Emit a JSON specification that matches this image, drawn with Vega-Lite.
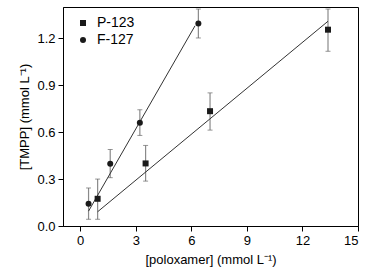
{
  "$schema": "https://vega.github.io/schema/vega-lite/v6.json",
  "width": 295,
  "height": 219,
  "autosize": "none",
  "padding": {"left": 63, "top": 7, "right": 22, "bottom": 47},
  "background": "white",
  "config": {
    "view": {"stroke": "black", "strokeWidth": 1},
    "font": "Liberation Sans",
    "axis": {
      "domainColor": "black",
      "tickColor": "black",
      "labelColor": "black",
      "titleColor": "black",
      "labelFont": "Liberation Sans",
      "titleFont": "Liberation Sans",
      "labelFontSize": 13,
      "titleFontSize": 13,
      "titleFontWeight": "normal",
      "grid": false,
      "labelPadding": 3
    }
  },
  "datasets": {
    "points": [
      {"series": "P-123", "x": 0.94, "y": 0.174, "lo": 0.043, "hi": 0.30},
      {"series": "P-123", "x": 3.53, "y": 0.40, "lo": 0.287, "hi": 0.515},
      {"series": "P-123", "x": 7.01, "y": 0.734, "lo": 0.613, "hi": 0.851},
      {"series": "P-123", "x": 13.38, "y": 1.255, "lo": 1.117, "hi": 1.387},
      {"series": "F-127", "x": 0.45, "y": 0.143, "lo": 0.043, "hi": 0.243},
      {"series": "F-127", "x": 1.62, "y": 0.398, "lo": 0.309, "hi": 0.489},
      {"series": "F-127", "x": 3.22, "y": 0.66, "lo": 0.579, "hi": 0.743},
      {"series": "F-127", "x": 6.38, "y": 1.294, "lo": 1.202, "hi": 1.387}
    ],
    "fits": [
      {"series": "P-123", "x": 0.94, "y": 0.091},
      {"series": "P-123", "x": 13.38, "y": 1.309},
      {"series": "F-127", "x": 0.45, "y": 0.095},
      {"series": "F-127", "x": 6.2, "y": 1.28}
    ]
  },
  "layer": [
    {
      "data": {"name": "points"},
      "mark": {"type": "rule", "color": "#8a8a8a", "strokeWidth": 1.2},
      "encoding": {
        "x": {
          "field": "x", "type": "quantitative",
          "scale": {"domain": [-0.93, 15], "nice": false, "zero": false},
          "title": "[poloxamer] (mmol L⁻¹)",
          "axis": {
            "values": [0, 1.5, 3, 4.5, 6, 7.5, 9, 10.5, 12, 13.5, 15],
            "labelExpr": "datum.value % 3 === 0 ? datum.label : ''",
            "tickSize": {"condition": {"test": "datum.value % 3 === 0", "value": 5}, "value": 3},
            "titlePadding": 6
          }
        },
        "y": {
          "field": "lo", "type": "quantitative",
          "scale": {"domain": [0, 1.4], "nice": false},
          "title": "[TMPP] (mmol L⁻¹)",
          "axis": {
            "values": [0, 0.15, 0.3, 0.45, 0.6, 0.75, 0.9, 1.05, 1.2, 1.35],
            "format": ".1f",
            "labelExpr": "abs(datum.value*10/3 - round(datum.value*10/3)) < 0.01 ? datum.label : ''",
            "tickSize": {"condition": {"test": "abs(datum.value*10/3 - round(datum.value*10/3)) < 0.01", "value": 5}, "value": 3},
            "titlePadding": 5
          }
        },
        "y2": {"field": "hi"}
      }
    },
    {
      "data": {"name": "points"},
      "mark": {"type": "tick", "orient": "horizontal", "color": "#6a6a6a", "size": 5, "thickness": 1},
      "encoding": {
        "x": {"field": "x", "type": "quantitative"},
        "y": {"field": "lo", "type": "quantitative", "title": "[TMPP] (mmol L⁻¹)"}
      }
    },
    {
      "data": {"name": "points"},
      "mark": {"type": "tick", "orient": "horizontal", "color": "#6a6a6a", "size": 5, "thickness": 1},
      "encoding": {
        "x": {"field": "x", "type": "quantitative"},
        "y": {"field": "hi", "type": "quantitative", "title": "[TMPP] (mmol L⁻¹)"}
      }
    },
    {
      "data": {"name": "fits"},
      "mark": {"type": "line", "color": "#333333", "strokeWidth": 1},
      "encoding": {
        "x": {"field": "x", "type": "quantitative"},
        "y": {"field": "y", "type": "quantitative", "title": "[TMPP] (mmol L⁻¹)"},
        "detail": {"field": "series"}
      }
    },
    {
      "data": {"name": "points"},
      "mark": {"type": "point", "filled": true, "color": "#1a1a1a", "opacity": 1, "size": 36},
      "encoding": {
        "x": {"field": "x", "type": "quantitative"},
        "y": {"field": "y", "type": "quantitative", "title": "[TMPP] (mmol L⁻¹)"},
        "shape": {
          "field": "series", "type": "nominal",
          "scale": {"domain": ["P-123", "F-127"], "range": ["square", "circle"]},
          "legend": {
            "orient": "none",
            "legendX": 13,
            "legendY": 9,
            "title": null,
            "symbolFillColor": "#1a1a1a",
            "symbolStrokeColor": "#1a1a1a",
            "symbolSize": 36,
            "labelFontSize": 14,
            "labelFont": "Liberation Sans",
            "labelColor": "black",
            "labelOffset": 7,
            "rowPadding": 3,
            "symbolOffset": 0
          }
        }
      }
    }
  ]
}
